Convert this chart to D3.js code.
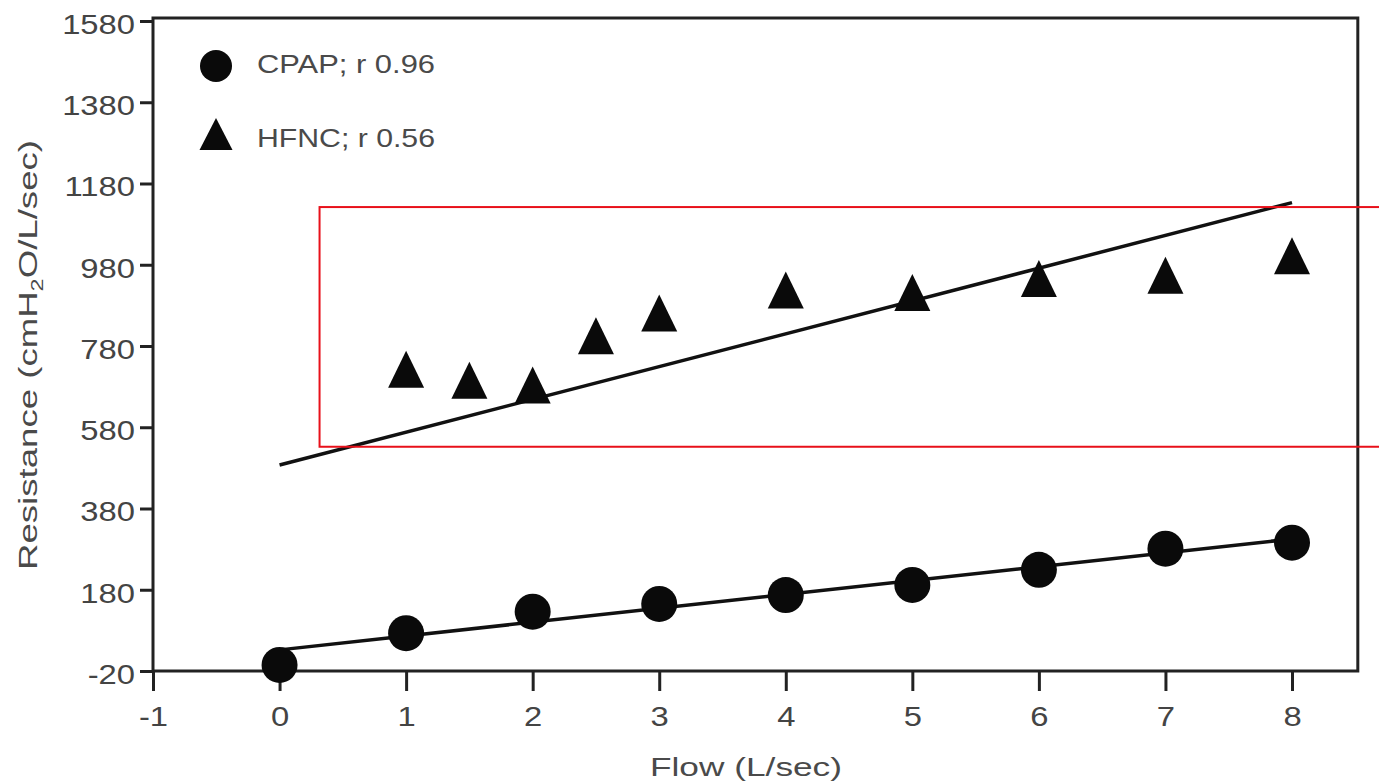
<!DOCTYPE html>
<html><head><meta charset="utf-8">
<script src="https://cdn.jsdelivr.net/npm/d3@7"></script>
<style>html,body{margin:0;padding:0;background:#fff;} svg{display:block;}</style>
</head><body>
<svg id="chart" width="1379" height="783"></svg>
<script>
// ---- data ----
const cpapFlow = [0, 1, 2, 3, 4, 5, 6, 7, 8];
const cpapResistance = [-5, 73, 126, 145, 167, 192, 229, 281, 296];
const hfncFlow = [1, 1.5, 2, 2.5, 3, 4, 5, 6, 7, 8];
const hfncResistance = [723, 696, 684, 805, 861, 918, 912, 946, 954, 1002];
const cpapFitFlow = [0, 8];
const cpapFitResistance = [32, 305];
const hfncFitFlow = [0, 8];
const hfncFitResistance = [487, 1133];
const xTicks = [-1, 0, 1, 2, 3, 4, 5, 6, 7, 8];
const yTicks = [-20, 180, 380, 580, 780, 980, 1180, 1380, 1580];
const seriesLabels = ["CPAP; r 0.96", "HFNC; r 0.56"];
const xTitle = "Flow (L/sec)";
const highlightFlow = [0.316, 9.3];
const highlightResistance = [532, 1122];

// ---- layout ----
const svg = d3.select("#chart");
const FONT = "'Liberation Sans', Arial, Helvetica, sans-serif";
const x = d3.scaleLinear().domain([-1, 8]).range([153, 1292]);
const y = d3.scaleLinear().domain([-20, 1580]).range([671, 21]);
const xFrameMax = 8.52;
const yFrameTop = 18;
const SX = 1.17;
const ink = "#111";
const axisInk = "#222";
const textInk = "#444";
const fmt = d => String(d);

// frame
svg.append("rect")
  .attr("x", x(-1)).attr("y", yFrameTop)
  .attr("width", x(xFrameMax) - x(-1)).attr("height", y(-20) - yFrameTop)
  .attr("fill", "none").attr("stroke", axisInk).attr("stroke-width", 3);

// y axis
const gy = svg.append("g").attr("transform", `translate(${x(-1)},0)`)
  .call(d3.axisLeft(y).tickValues(yTicks).tickSize(13).tickFormat(fmt));
gy.select(".domain").remove();
gy.selectAll(".tick line").attr("stroke", axisInk).attr("stroke-width", 3);
gy.selectAll(".tick text")
  .attr("font-family", FONT).attr("font-size", 28).attr("fill", textInk)
  .attr("x", -18 / SX).attr("dy", "0.44em")
  .attr("transform", `scale(${SX},1)`);

// x axis
const gx = svg.append("g").attr("transform", `translate(0,${y(-20)})`)
  .call(d3.axisBottom(x).tickValues(xTicks).tickSize(20).tickFormat(fmt));
gx.select(".domain").remove();
gx.selectAll(".tick line").attr("stroke", axisInk).attr("stroke-width", 3);
gx.selectAll(".tick text")
  .attr("font-family", FONT).attr("font-size", 28).attr("fill", textInk)
  .attr("y", 55).attr("dy", 0)
  .attr("transform", `scale(${SX},1)`);

// fit lines
const line = d3.line().x(d => x(d[0])).y(d => y(d[1]));
svg.append("path").datum(d3.zip(hfncFitFlow, hfncFitResistance))
  .attr("d", line).attr("fill", "none").attr("stroke", ink).attr("stroke-width", 3.5);
svg.append("path").datum(d3.zip(cpapFitFlow, cpapFitResistance))
  .attr("d", line).attr("fill", "none").attr("stroke", ink).attr("stroke-width", 3.5);

// markers
const tri = (w, h) => `M0,${-h/2}L${w/2},${h/2}L${-w/2},${h/2}Z`;
svg.append("g").selectAll("circle").data(d3.zip(cpapFlow, cpapResistance)).join("circle")
  .attr("cx", d => x(d[0])).attr("cy", d => y(d[1])).attr("r", 18).attr("fill", "#0a0a0a");
svg.append("g").selectAll("path").data(d3.zip(hfncFlow, hfncResistance)).join("path")
  .attr("transform", d => `translate(${x(d[0])},${y(d[1])})`)
  .attr("d", tri(36, 37)).attr("fill", "#0a0a0a");

// legend
const leg = svg.append("g");
leg.append("circle").attr("cx", 216).attr("cy", 66).attr("r", 16).attr("fill", "#0a0a0a");
leg.append("path").attr("transform", "translate(216,134)").attr("d", tri(33, 32)).attr("fill", "#0a0a0a");
leg.selectAll("text").data(seriesLabels).join("text")
  .attr("x", 257).attr("y", (d, i) => i === 0 ? 73 : 147)
  .attr("font-family", FONT).attr("font-size", 25).attr("fill", "#4a4a4a")
  .attr("textLength", 178).attr("lengthAdjust", "spacingAndGlyphs")
  .text(d => d);

// axis titles
svg.append("text").attr("x", 746).attr("y", 776).attr("text-anchor", "middle")
  .attr("font-family", FONT).attr("font-size", 25).attr("fill", "#4a4a4a")
  .attr("textLength", 192).attr("lengthAdjust", "spacingAndGlyphs")
  .text(xTitle);

const yt = svg.append("text").attr("transform", "translate(37,355) rotate(-90)")
  .attr("text-anchor", "middle")
  .attr("font-family", FONT).attr("font-size", 25).attr("fill", "#4a4a4a")
  .attr("textLength", 430).attr("lengthAdjust", "spacingAndGlyphs");
yt.append("tspan").text("Resistance (cmH");
yt.append("tspan").attr("font-size", 16).attr("dy", 6).text("2");
yt.append("tspan").attr("dy", -6).text("O/L/sec)");

// highlight box
svg.append("rect")
  .attr("x", x(highlightFlow[0])).attr("y", y(highlightResistance[1]))
  .attr("width", x(highlightFlow[1]) - x(highlightFlow[0]))
  .attr("height", y(highlightResistance[0]) - y(highlightResistance[1]))
  .attr("fill", "none").attr("stroke", "#e8101a").attr("stroke-width", 2);
</script>
</body></html>
